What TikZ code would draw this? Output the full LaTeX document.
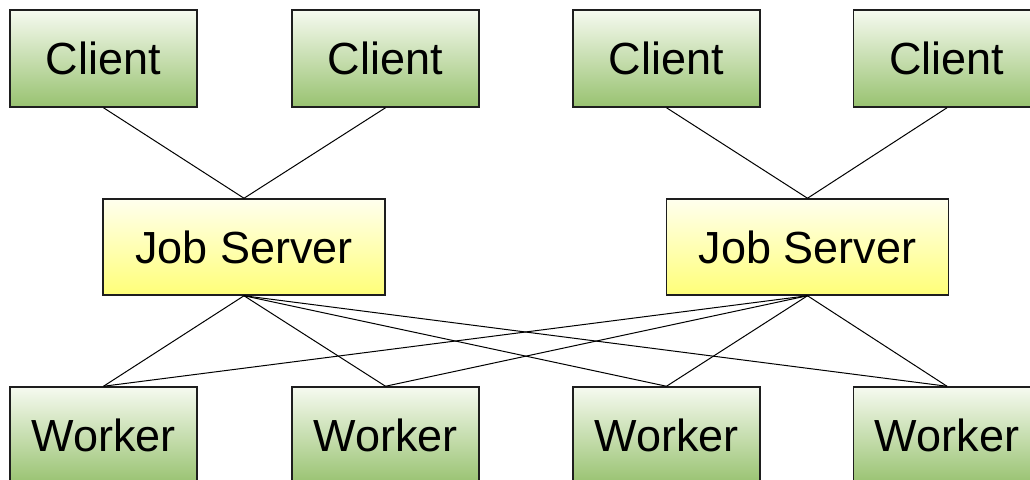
\documentclass[tikz,border=0pt]{standalone}
\usepackage{fontspec}
\setmainfont{Liberation Sans}
\definecolor{gtop}{RGB}{246,250,240}
\definecolor{gbot}{RGB}{152,194,112}
\definecolor{ytop}{RGB}{255,255,238}
\definecolor{ybot}{RGB}{255,255,120}
\definecolor{edge}{RGB}{30,30,30}
\tikzset{
  greenbox/.style={draw=edge, line width=1.5pt, minimum width=187pt, minimum height=97pt,
    top color=gtop, bottom color=gbot, inner sep=0pt, font=\fontsize{45}{50}\selectfont},
  yellowbox/.style={draw=edge, line width=1.5pt, minimum width=282pt, minimum height=96pt,
    top color=ytop, bottom color=ybot, inner sep=0pt, font=\fontsize{45}{50}\selectfont},
  link/.style={draw=black, line width=1pt}
}
\begin{document}
\begin{tikzpicture}[x=1pt,y=-1pt]
\useasboundingbox (0,0) rectangle (1030,479);
\clip (0,0) rectangle (1030,479);
\fill[white] (0,0) rectangle (1030,479);
\node[greenbox] (c1) at (103.5,58.5) {Client};
\node[greenbox] (c2) at (385.5,58.5) {Client};
\node[greenbox] (c3) at (666.5,58.5) {Client};
\node[greenbox] (c4) at (947,58.5) {Client};
\node[yellowbox] (s1) at (244,247) {Job Server};
\node[yellowbox] (s2) at (807.5,247) {Job Server};
\node[greenbox] (w1) at (103.5,435.5) {Worker};
\node[greenbox] (w2) at (385.5,435.5) {Worker};
\node[greenbox] (w3) at (666.5,435.5) {Worker};
\node[greenbox] (w4) at (947,435.5) {Worker};
\draw[link] (c1.south) -- (s1.north);
\draw[link] (c2.south) -- (s1.north);
\draw[link] (c3.south) -- (s2.north);
\draw[link] (c4.south) -- (s2.north);
\foreach \s in {s1,s2}{
  \foreach \w in {w1,w2,w3,w4}{
    \draw[link] (\s.south) -- (\w.north);
  }
}
\end{tikzpicture}
\end{document}
